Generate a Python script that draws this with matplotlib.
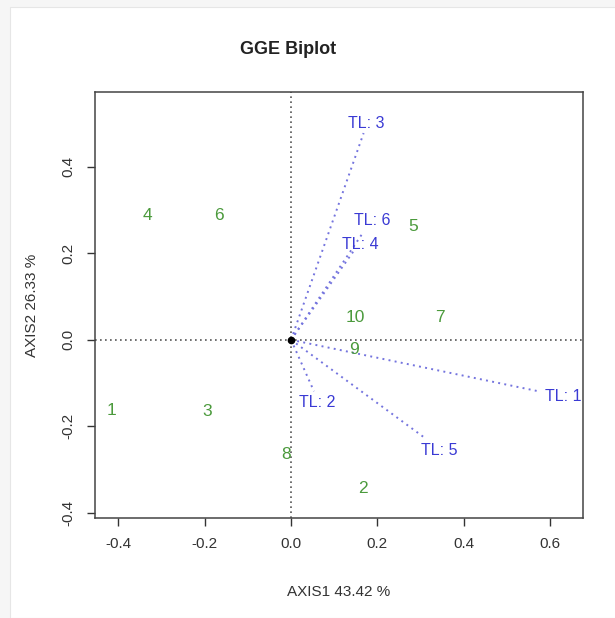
import matplotlib
matplotlib.use("Agg")
import matplotlib.pyplot as plt
from matplotlib.patches import Rectangle

plt.rcParams['font.family'] = ['Liberation Sans', 'DejaVu Sans']

# genotype scores (green labels)
gen_labels = ['1', '2', '3', '4', '5', '6', '7', '8', '9', '10']
gen_x = [-0.415, 0.166, -0.195, -0.333, 0.282, -0.168, 0.344, -0.012, 0.146, 0.148]
gen_y = [-0.163, -0.343, -0.166, 0.287, 0.262, 0.287, 0.052, -0.266, -0.022, 0.052]

# environment vectors (blue) and where their names sit
env_labels = ['TL: 1', 'TL: 2', 'TL: 3', 'TL: 4', 'TL: 5', 'TL: 6']
env_x = [0.573, 0.053, 0.168, 0.144, 0.310, 0.166]
env_y = [-0.119, -0.119, 0.478, 0.204, -0.227, 0.247]
env_lab_x = [0.631, 0.061, 0.175, 0.161, 0.343, 0.187]
env_lab_y = [-0.131, -0.144, 0.501, 0.221, -0.256, 0.277]

xticks = [-0.4, -0.2, 0.0, 0.2, 0.4, 0.6]
yticks = [-0.4, -0.2, 0.0, 0.2, 0.4]

fig = plt.figure(figsize=(6.15, 6.18), dpi=100)
fig.patch.set_facecolor('#f6f6f6')
fig.patches.append(Rectangle((10 / 615, 0), 1, 1 - 7 / 618, transform=fig.transFigure,
                             facecolor='white', edgecolor='#e6e6e6', lw=0.8, zorder=-10))

ax = fig.add_axes([95 / 615, 1 - 518 / 618, 488 / 615, 426 / 618])
ax.set_zorder(5)
ax.set_xlim(-0.454, 0.676)
ax.set_ylim(-0.412, 0.573)

ax.axhline(0, color='#555555', ls=(0, (1, 2)), lw=1.2, zorder=1)
ax.axvline(0, color='#555555', ls=(0, (1, 2)), lw=1.2, zorder=1)

for ex, ey in zip(env_x, env_y):
    ax.plot([0, ex], [0, ey], color='#7474de', ls=(0, (1, 2.2)), lw=1.4, zorder=2)
for lab, lx, ly in zip(env_labels, env_lab_x, env_lab_y):
    ax.text(lx, ly, lab, color='#3a3ad4', fontsize=11.5,
            ha='center', va='center', zorder=3)

for lab, gx, gy in zip(gen_labels, gen_x, gen_y):
    ax.text(gx, gy, lab, color='#4b9a3c', fontsize=12.5, ha='center', va='center', zorder=3)

ax.plot([0], [0], 'o', color='black', ms=4.5, zorder=4)

ax.set_xticks(xticks)
ax.set_xticklabels(['%.1f' % v for v in xticks])
ax.set_yticks(yticks)
ax.set_yticklabels(['%.1f' % v for v in yticks], rotation=90, va='center')
ax.tick_params(direction='out', length=6, width=1, colors='#333333', labelsize=11, pad=8)
for s in ax.spines.values():
    s.set_color('#444444')
    s.set_linewidth(1.1)

ax.set_xlabel('AXIS1 43.42 %', fontsize=11, color='#333333', labelpad=24)
ax.set_ylabel('AXIS2 26.33 %', fontsize=11, color='#333333', labelpad=16)
fig.text(288 / 615, 1 - 50 / 618, 'GGE Biplot', fontsize=13, fontweight='bold',
         ha='center', va='center', color='#222222')

fig.savefig('out.png', dpi=100, facecolor=fig.get_facecolor())
